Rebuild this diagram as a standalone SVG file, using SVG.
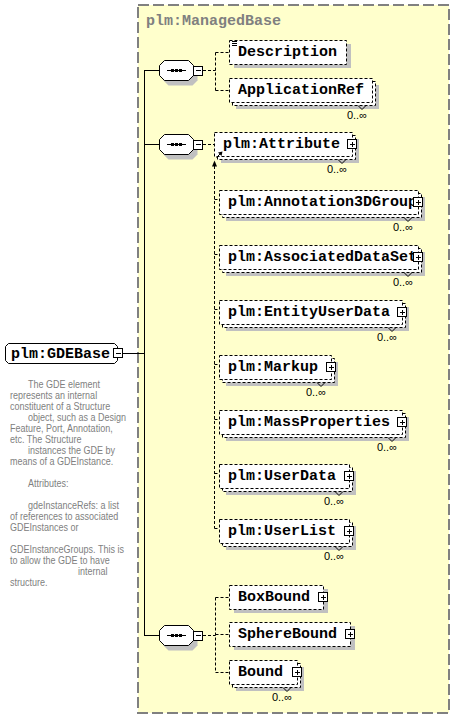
<svg xmlns="http://www.w3.org/2000/svg" width="454" height="720" viewBox="0 0 454 720">
<defs>
<style>
.frame{fill:#FFFFCC;stroke:#808080;stroke-width:2;stroke-dasharray:11 4}
.title{font-family:"Liberation Mono",monospace;font-weight:bold;font-size:15px;fill:#808080}
.shadow{fill:#C0C0C0;stroke:none}
.box{fill:#fff;stroke:#000;stroke-width:1;stroke-dasharray:3 2}
.solid{fill:#fff;stroke:#000;stroke-width:1}
.name{font-family:"Liberation Mono",monospace;font-weight:bold;font-size:15px;fill:#000}
.occ{font-family:"Liberation Sans",sans-serif;font-size:11px;fill:#000;text-anchor:end}
.doc{font-family:"Liberation Sans",sans-serif;font-size:11px;fill:#808080}
.ln{fill:none;stroke:#000;stroke-width:1}
.dl{fill:none;stroke:#000;stroke-width:1;stroke-dasharray:3 2}
.notch{fill:none;stroke:#000;stroke-width:1}
</style>
</defs>

<g id="ManagedBase">
<rect class="frame" x="138" y="5" width="311" height="708"/>
<text class="title" x="146" y="25">plm:ManagedBase</text>
</g>

<g id="connectors">
<path class="ln" d="M122.5 353.5H144.5M144.5 70V636M144 70.5H159.5M144 144.5H159.5M144 635.5H159.5"/>
<path class="dl" d="M203 70.5H215.5M215.5 52.5V90.5M215.5 52.5H229M215.5 90.5H229"/>
<path class="dl" d="M203 144.5H214"/>
<path class="dl" d="M214.5 166V528.5M214.5 199.5H219M214.5 254.5H219M214.5 309.5H219M214.5 364.5H219M214.5 419.5H219M214.5 473.5H219M214.5 528.5H219"/>
<polygon points="214.5,160.5 212,166.5 217,166.5" fill="#000"/>
<path class="dl" d="M203 635.5H215.5M215.5 597.5V672.5M215.5 597.5H229M215.5 634.5H229M215.5 672.5H229"/>
</g>

<g id="GDEBase">
<polygon class="solid" points="8.5,343.5 114.5,343.5 117.5,346.5 117.5,360.5 114.5,363.5 8.5,363.5 5.5,360.5 5.5,346.5"/>
<text class="name" x="11" y="358">plm:GDEBase</text>
<rect class="solid" x="113.5" y="348.5" width="9" height="9"/>
<path class="ln" d="M116 353.5H121"/>
</g>

<g id="GDEBase_doc" class="doc" transform="scale(0.82 1)">
<text x="34.1" y="388">The GDE element</text>
<text x="12.2" y="399">represents an internal</text>
<text x="12.2" y="410">constituent of a Structure</text>
<text x="34.1" y="421">object, such as a Design</text>
<text x="12.2" y="432">Feature, Port, Annotation,</text>
<text x="12.2" y="443">etc. The Structure</text>
<text x="34.1" y="454">instances the GDE by</text>
<text x="12.2" y="465">means of a GDEInstance.</text>
<text x="34.1" y="487">Attributes:</text>
<text x="34.1" y="509">gdeInstanceRefs: a list</text>
<text x="12.2" y="520">of references to associated</text>
<text x="12.2" y="531">GDEInstances or</text>
<text x="12.2" y="553">GDEInstanceGroups. This is</text>
<text x="12.2" y="564">to allow the GDE to have</text>
<text x="95.1" y="575">internal</text>
<text x="12.2" y="586">structure.</text>
</g>

<g id="seq1">
<path class="shadow" d="M168.5 65.5H192.5L197.5 70.5V80.5L192.5 85.5H168.5L163.5 80.5V70.5Z"/>
<path class="solid" d="M164.5 60.5H188.5L193.5 65.5V75.5L188.5 80.5H164.5L159.5 75.5V65.5Z"/>
<path class="ln" d="M167 70.5H186"/>
<rect x="171" y="69" width="3" height="3"/><rect x="175" y="69" width="3" height="3"/><rect x="179" y="69" width="3" height="3"/>
<rect class="solid" x="193.5" y="66.5" width="9" height="9"/>
<path class="ln" d="M196 70.5H201"/>
</g>

<g id="seq2">
<path class="shadow" d="M168.5 139.5H192.5L197.5 144.5V154.5L192.5 159.5H168.5L163.5 154.5V144.5Z"/>
<path class="solid" d="M164.5 134.5H188.5L193.5 139.5V149.5L188.5 154.5H164.5L159.5 149.5V139.5Z"/>
<path class="ln" d="M167 144.5H186"/>
<rect x="171" y="143" width="3" height="3"/><rect x="175" y="143" width="3" height="3"/><rect x="179" y="143" width="3" height="3"/>
<rect class="solid" x="193.5" y="140.5" width="9" height="9"/>
<path class="ln" d="M196 144.5H201"/>
</g>

<g id="seq3">
<path class="shadow" d="M168.5 630.5H192.5L197.5 635.5V645.5L192.5 650.5H168.5L163.5 645.5V635.5Z"/>
<path class="solid" d="M164.5 625.5H188.5L193.5 630.5V640.5L188.5 645.5H164.5L159.5 640.5V630.5Z"/>
<path class="ln" d="M167 635.5H186"/>
<rect x="171" y="634" width="3" height="3"/><rect x="175" y="634" width="3" height="3"/><rect x="179" y="634" width="3" height="3"/>
<rect class="solid" x="193.5" y="631.5" width="9" height="9"/>
<path class="ln" d="M196 635.5H201"/>
</g>

<g id="Description">
<rect class="shadow" x="234" y="44" width="117" height="24"/>
<rect class="box" x="229.5" y="40.5" width="117" height="24"/>
<path class="ln" d="M232 41.5H237M232 43.5H237M232 45.5H237"/>
<text class="name" x="238" y="56">Description</text>
</g>

<g id="ApplicationRef">
<rect class="shadow" x="236" y="85" width="143" height="24"/>
<rect class="box" x="232.5" y="81.5" width="143" height="24"/>
<rect class="box" x="229.5" y="78.5" width="143" height="24"/>
<text class="name" x="238" y="94">ApplicationRef</text>
<polyline class="notch" points="358,105.5 362,109.5 366,105.5"/>
<text class="occ" x="367" y="119">0..∞</text>
</g>

<g id="Attribute">
<rect class="shadow" x="221" y="139" width="138" height="24"/>
<rect class="box" x="217.5" y="135.5" width="138" height="24"/>
<rect class="box" x="214.5" y="132.5" width="138" height="24"/>
<text class="name" x="223" y="148">plm:Attribute</text>
<rect class="solid" x="347.5" y="139.5" width="9" height="9"/>
<path class="ln" d="M350 144.5H355M352.5 142V147"/>
<path class="ln" d="M216.5 157.5L221 153"/>
<polygon points="222.5,151.5 218,152.5 221.5,156" fill="#000"/>
<polyline class="notch" points="338,159.5 342,163.5 346,159.5"/>
<text class="occ" x="347" y="173">0..∞</text>
</g>

<g id="Annotation3DGroup">
<rect class="shadow" x="226" y="197" width="199" height="24"/>
<rect class="box" x="222.5" y="193.5" width="199" height="24"/>
<rect class="box" x="219.5" y="190.5" width="199" height="24"/>
<text class="name" x="228" y="206">plm:Annotation3DGroup</text>
<rect class="solid" x="413.5" y="197.5" width="9" height="9"/>
<path class="ln" d="M416 202.5H421M418.5 200V205"/>
<polyline class="notch" points="404,217.5 408,221.5 412,217.5"/>
<text class="occ" x="413" y="231">0..∞</text>
</g>

<g id="AssociatedDataSet">
<rect class="shadow" x="226" y="252" width="199" height="24"/>
<rect class="box" x="222.5" y="248.5" width="199" height="24"/>
<rect class="box" x="219.5" y="245.5" width="199" height="24"/>
<text class="name" x="228" y="261">plm:AssociatedDataSet</text>
<rect class="solid" x="413.5" y="252.5" width="9" height="9"/>
<path class="ln" d="M416 257.5H421M418.5 255V260"/>
<polyline class="notch" points="404,272.5 408,276.5 412,272.5"/>
<text class="occ" x="413" y="286">0..∞</text>
</g>

<g id="EntityUserData">
<rect class="shadow" x="226" y="307" width="183" height="24"/>
<rect class="box" x="222.5" y="303.5" width="183" height="24"/>
<rect class="box" x="219.5" y="300.5" width="183" height="24"/>
<text class="name" x="228" y="316">plm:EntityUserData</text>
<rect class="solid" x="397.5" y="307.5" width="9" height="9"/>
<path class="ln" d="M400 312.5H405M402.5 310V315"/>
<polyline class="notch" points="388,327.5 392,331.5 396,327.5"/>
<text class="occ" x="397" y="341">0..∞</text>
</g>

<g id="Markup">
<rect class="shadow" x="226" y="362" width="112" height="24"/>
<rect class="box" x="222.5" y="358.5" width="112" height="24"/>
<rect class="box" x="219.5" y="355.5" width="112" height="24"/>
<text class="name" x="228" y="371">plm:Markup</text>
<rect class="solid" x="326.5" y="362.5" width="9" height="9"/>
<path class="ln" d="M329 367.5H334M331.5 365V370"/>
<polyline class="notch" points="317,382.5 321,386.5 325,382.5"/>
<text class="occ" x="326" y="396">0..∞</text>
</g>

<g id="MassProperties">
<rect class="shadow" x="226" y="417" width="183" height="24"/>
<rect class="box" x="222.5" y="413.5" width="183" height="24"/>
<rect class="box" x="219.5" y="410.5" width="183" height="24"/>
<text class="name" x="228" y="426">plm:MassProperties</text>
<rect class="solid" x="397.5" y="417.5" width="9" height="9"/>
<path class="ln" d="M400 422.5H405M402.5 420V425"/>
<polyline class="notch" points="388,437.5 392,441.5 396,437.5"/>
<text class="occ" x="397" y="451">0..∞</text>
</g>

<g id="UserData">
<rect class="shadow" x="226" y="471" width="130" height="24"/>
<rect class="box" x="222.5" y="467.5" width="130" height="24"/>
<rect class="box" x="219.5" y="464.5" width="130" height="24"/>
<text class="name" x="228" y="480">plm:UserData</text>
<rect class="solid" x="344.5" y="471.5" width="9" height="9"/>
<path class="ln" d="M347 476.5H352M349.5 474V479"/>
<polyline class="notch" points="335,491.5 339,495.5 343,491.5"/>
<text class="occ" x="344" y="505">0..∞</text>
</g>

<g id="UserList">
<rect class="shadow" x="226" y="526" width="130" height="24"/>
<rect class="box" x="222.5" y="522.5" width="130" height="24"/>
<rect class="box" x="219.5" y="519.5" width="130" height="24"/>
<text class="name" x="228" y="535">plm:UserList</text>
<rect class="solid" x="344.5" y="526.5" width="9" height="9"/>
<path class="ln" d="M347 531.5H352M349.5 529V534"/>
<polyline class="notch" points="335,546.5 339,550.5 343,546.5"/>
<text class="occ" x="344" y="560">0..∞</text>
</g>

<g id="BoxBound">
<rect class="shadow" x="234" y="589" width="94" height="24"/>
<rect class="box" x="229.5" y="585.5" width="94" height="24"/>
<text class="name" x="238" y="601">BoxBound</text>
<rect class="solid" x="318.5" y="592.5" width="9" height="9"/>
<path class="ln" d="M321 597.5H326M323.5 595V600"/>
</g>

<g id="SphereBound">
<rect class="shadow" x="234" y="626" width="121" height="24"/>
<rect class="box" x="229.5" y="622.5" width="121" height="24"/>
<text class="name" x="238" y="638">SphereBound</text>
<rect class="solid" x="345.5" y="629.5" width="9" height="9"/>
<path class="ln" d="M348 634.5H353M350.5 632V637"/>
</g>

<g id="Bound">
<rect class="shadow" x="236" y="667" width="68" height="24"/>
<rect class="box" x="232.5" y="663.5" width="68" height="24"/>
<rect class="box" x="229.5" y="660.5" width="68" height="24"/>
<text class="name" x="238" y="676">Bound</text>
<rect class="solid" x="292.5" y="667.5" width="9" height="9"/>
<path class="ln" d="M295 672.5H300M297.5 670V675"/>
<polyline class="notch" points="283,687.5 287,691.5 291,687.5"/>
<text class="occ" x="292" y="701">0..∞</text>
</g>
</svg>
